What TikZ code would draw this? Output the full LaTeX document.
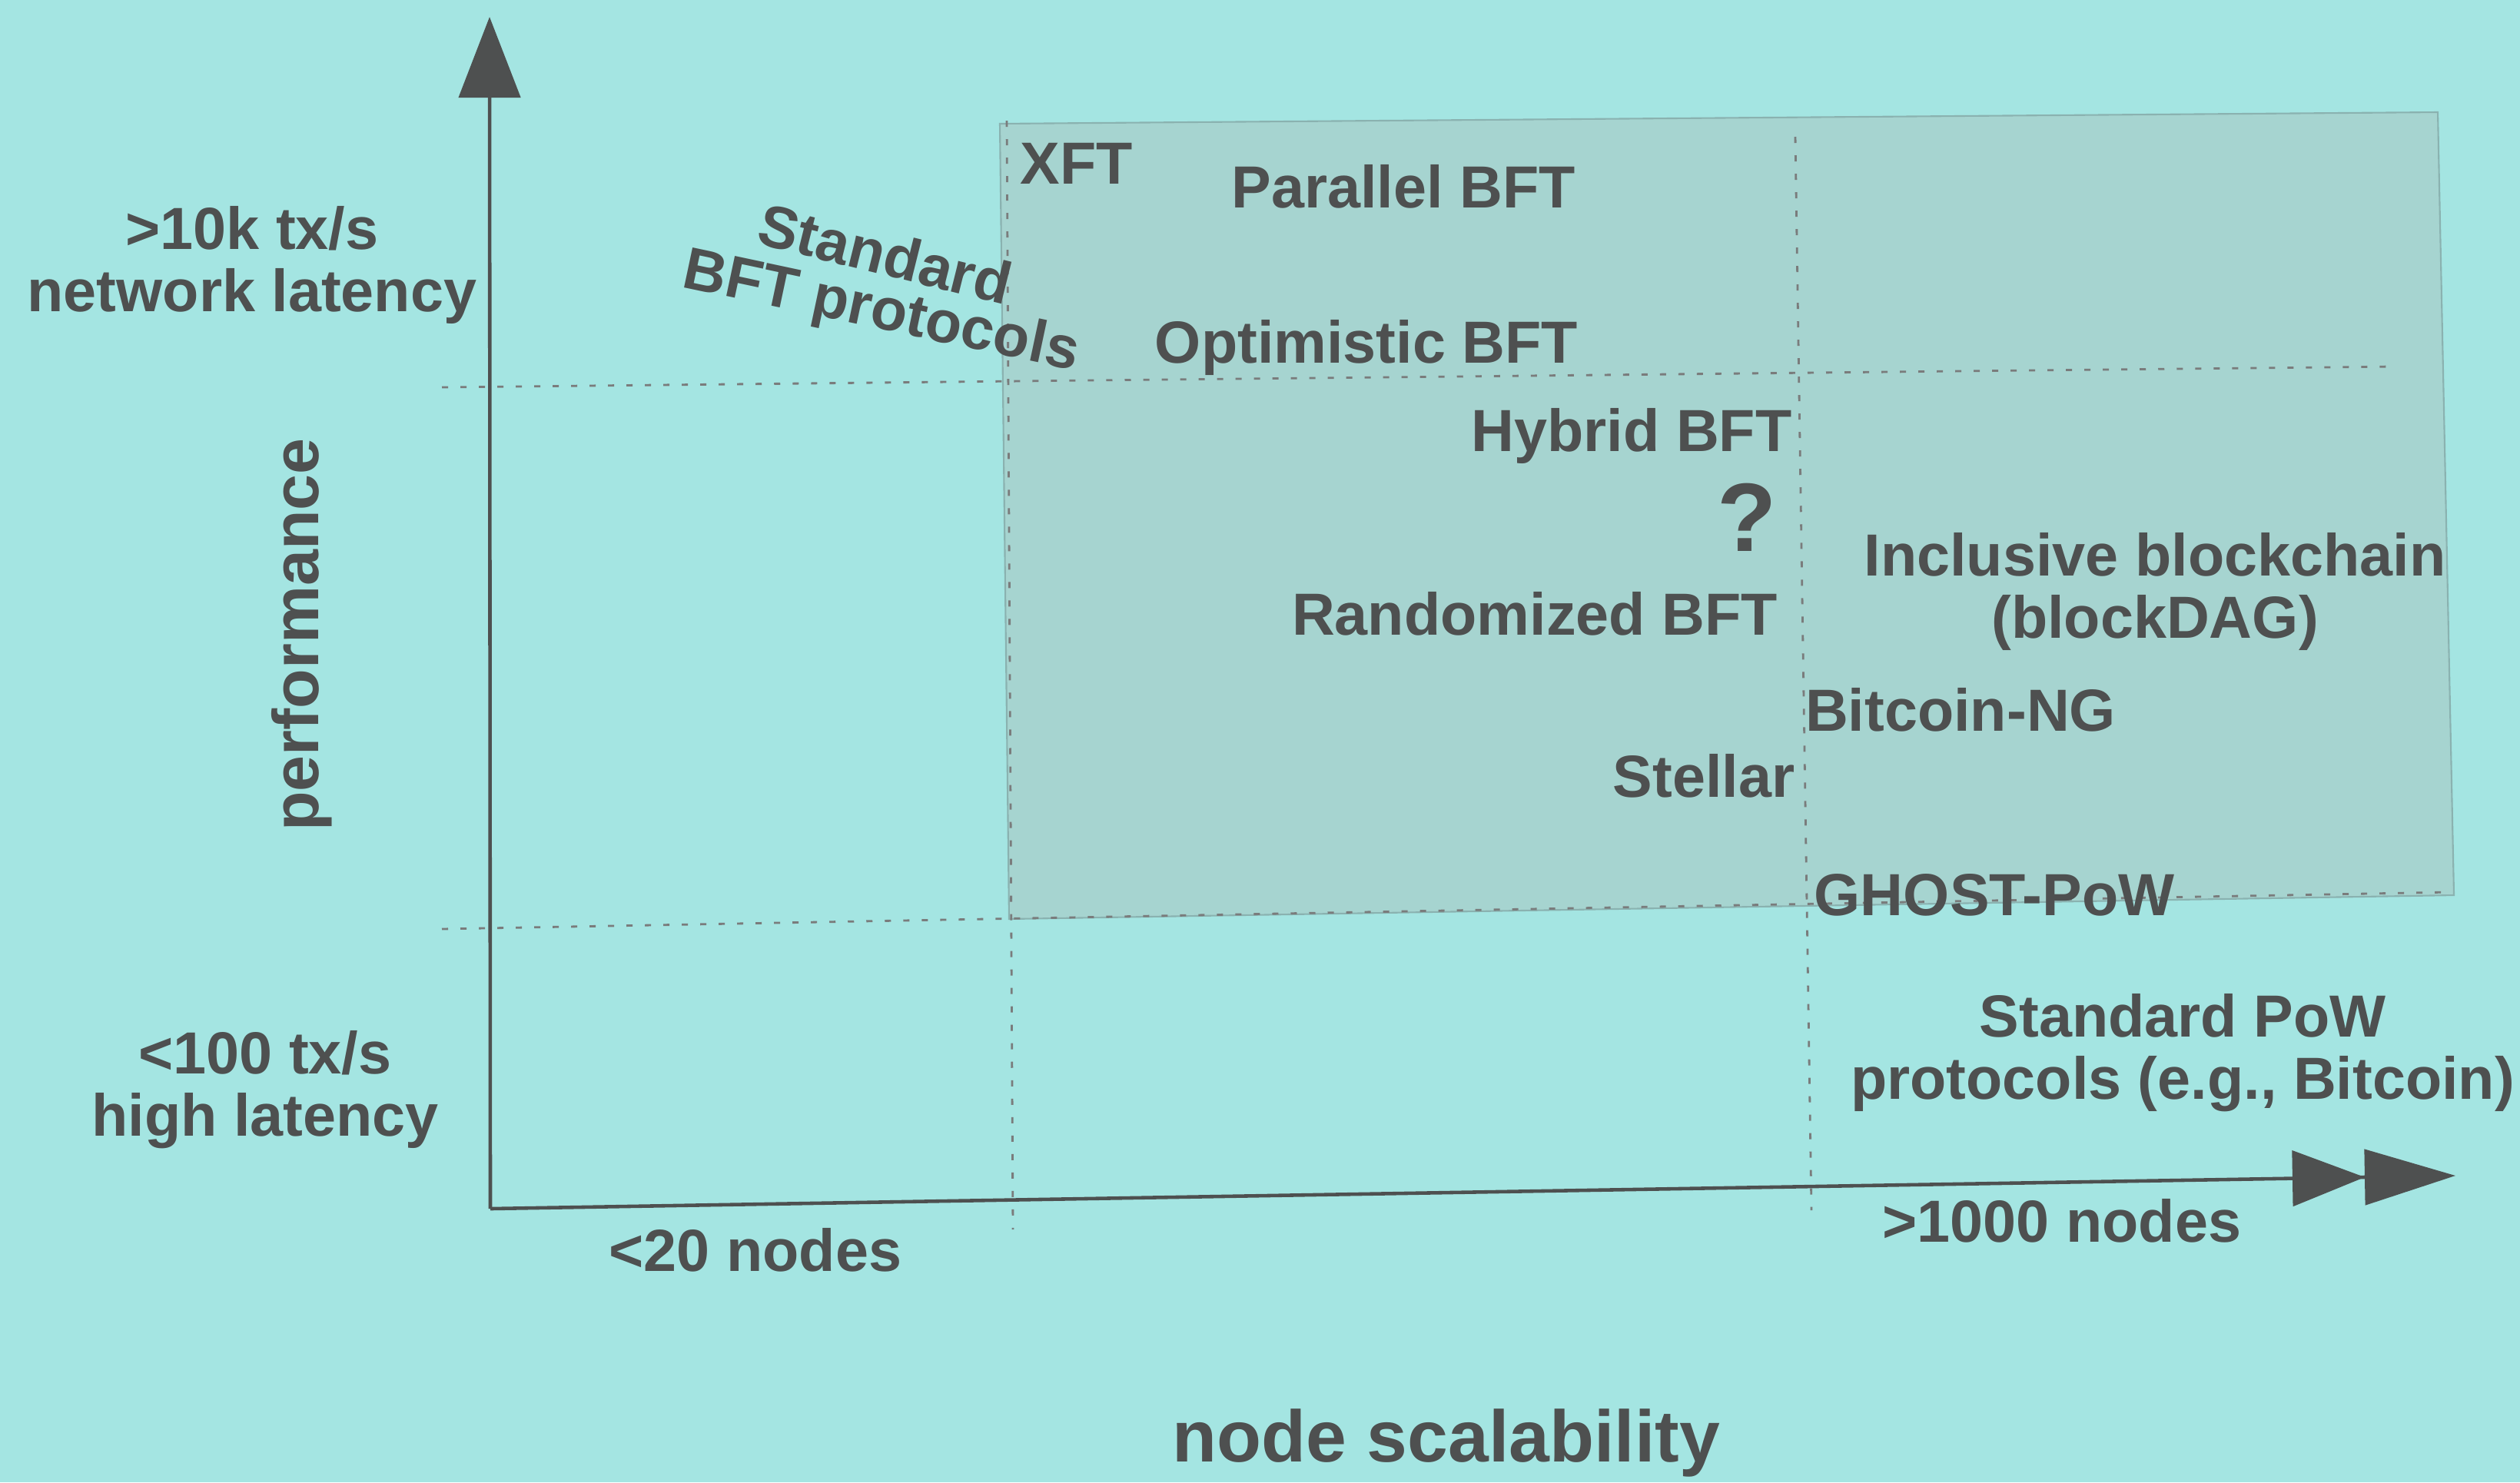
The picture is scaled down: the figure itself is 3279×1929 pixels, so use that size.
\documentclass[tikz,border=0pt]{standalone}
\usepackage{fontspec}
\setmainfont{Liberation Sans}
\usetikzlibrary{arrows.meta}

\definecolor{slide}{RGB}{164,229,226}
\definecolor{boxfill}{RGB}{166,212,208}
\definecolor{boxedge}{RGB}{138,178,176}
\definecolor{ink}{RGB}{78,80,80}

\begin{document}
\begin{tikzpicture}[x=0.01cm,y=-0.01cm,
  lbl/.style={font=\fontsize{22}{23}\selectfont\bfseries,text=ink,align=center,inner sep=0pt},
  grid/.style={ink!75,line width=0.8pt,dash pattern=on 0.08cm off 0.16cm},
  axis/.style={ink,line width=1.3pt}]
\fill[slide] (0,0) rectangle (3279,1929); % slide
\useasboundingbox (0,0) rectangle (3279,1929);

\draw[boxedge,fill=boxfill,line width=0.6pt] (1301,161) -- (3172,146) -- (3193,1165) -- (1313,1196) -- cycle; % shaded region

% dotted grid
\draw[grid] (575,504) -- (3116,477);
\draw[grid] (575,1209) -- (3189,1161);
\draw[grid] (1310,157) -- (1318,1600);
\draw[grid] (2336,178) -- (2357,1575);

% axes
\coordinate (origin) at (638,1573);
\coordinate (ytip) at (637,22);
\coordinate (xtip) at (3195,1530);
\draw[axis,-{Triangle[length=1.05cm,width=0.8cm]}] (origin) -- (ytip);
\draw[axis,-{Triangle[length=0.94cm,width=0.72cm,sep=0pt]Triangle[length=1.18cm,width=0.72cm]}] (origin) -- (xtip);

% axis labels
\node[lbl] (fast) at (328,345) {>10k tx/s\\network latency};
\node[lbl] (slow) at (345,1418) {<100 tx/s\\high latency};
\node[lbl,font=\fontsize{24}{26}\selectfont\bfseries,rotate=90] (perf) at (393,826) {performance};
\node[lbl] (few) at (983,1627) {<20 nodes};
\node[lbl] (many) at (2683,1589) {>1000 nodes};
\node[lbl,font=\fontsize{27}{29}\selectfont\bfseries] (scal) at (1882,1878) {node scalability};

% protocols
\node[lbl,rotate=-14] (stdbft) at (1152,330) {Standard};
\node[lbl,rotate=-12] (bftprot) at (1146,408) {BFT protocols};
\node[lbl] (xft) at (1401,213) {XFT};
\node[lbl] (parbft) at (1826,243) {Parallel BFT};
\node[lbl] (optbft) at (1778,452) {Optimistic BFT};
\node[lbl] (hybbft) at (2123,567) {Hybrid BFT};
\node[lbl,font=\fontsize{36}{38}\selectfont\bfseries] (unknown) at (2273,673) {?};
\node[lbl] (rndbft) at (1997,799) {Randomized BFT};
\node[lbl] (stellar) at (2217,1010) {Stellar};
\node[lbl] (incl) at (2804,770) {Inclusive blockchain\\(blockDAG)};
\node[lbl] (btcng) at (2551,924) {Bitcoin-NG};
\node[lbl] (ghost) at (2595,1165) {GHOST-PoW};
\node[lbl] (stdpow) at (2840,1370) {Standard PoW\\protocols (e.g., Bitcoin)};
\end{tikzpicture}
\end{document}
